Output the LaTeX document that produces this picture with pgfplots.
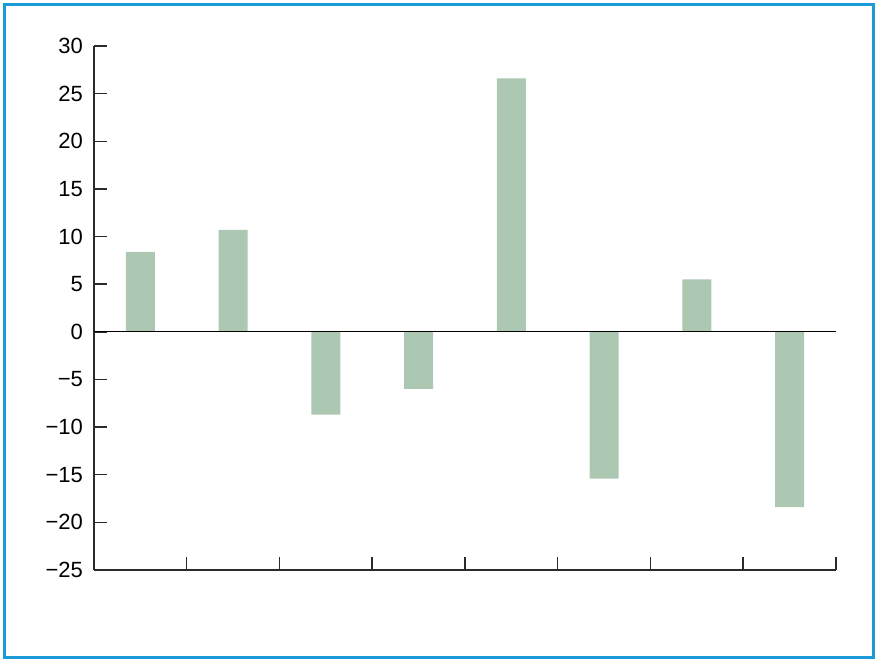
\documentclass[border=0pt]{standalone}
\usepackage{pgfplots}
\pgfplotsset{compat=1.18}
\usepackage{fontspec}
\setmainfont{Liberation Sans}
\definecolor{barfill}{HTML}{ACC8B2}
\definecolor{framecol}{HTML}{1A9BD7}
\definecolor{axiscol}{HTML}{2A2A2A}

\pgfplotstableread{
x  val
1  8.4
2  10.7
3  -8.7
4  -6.0
5  26.6
6  -15.4
7  5.5
8  -18.4
}\changes

\begin{document}
\begin{tikzpicture}
\useasboundingbox (-47pt,-45pt) rectangle (390.5pt,285pt);
\draw[framecol, line width=1.5pt] (-44.75pt,-44pt) rectangle (389.5pt,282.75pt);
\begin{axis}[
  at={(0,0)}, anchor=south west,
  scale only axis,
  width=371pt, height=262pt,
  xmin=0.5, xmax=8.5,
  ymin=-25, ymax=30,
  axis x line=bottom, axis y line=left,
  axis line style={axiscol, line width=0.75pt, -},
  xtick={1.5,2.5,...,8.5},
  xticklabels={},
  ytick={-25,-20,...,30},
  yticklabels={−25,−20,−15,−10,−5,0,5,10,15,20,25,30},
  major tick length=6.5pt,
  tick align=inside,
  yticklabel style={font=\fontsize{11}{13}\selectfont, text=black, xshift=-2pt},
  every tick/.style={axiscol, line width=0.75pt},
  clip=false,
]
\addplot[ybar, bar width=14.5pt, fill=barfill, draw=none] table[x=x, y=val] {\changes};
\addplot[black, line width=0.6pt] coordinates {(0.5,0) (8.5,0)};
\end{axis}
\end{tikzpicture}
\end{document}
